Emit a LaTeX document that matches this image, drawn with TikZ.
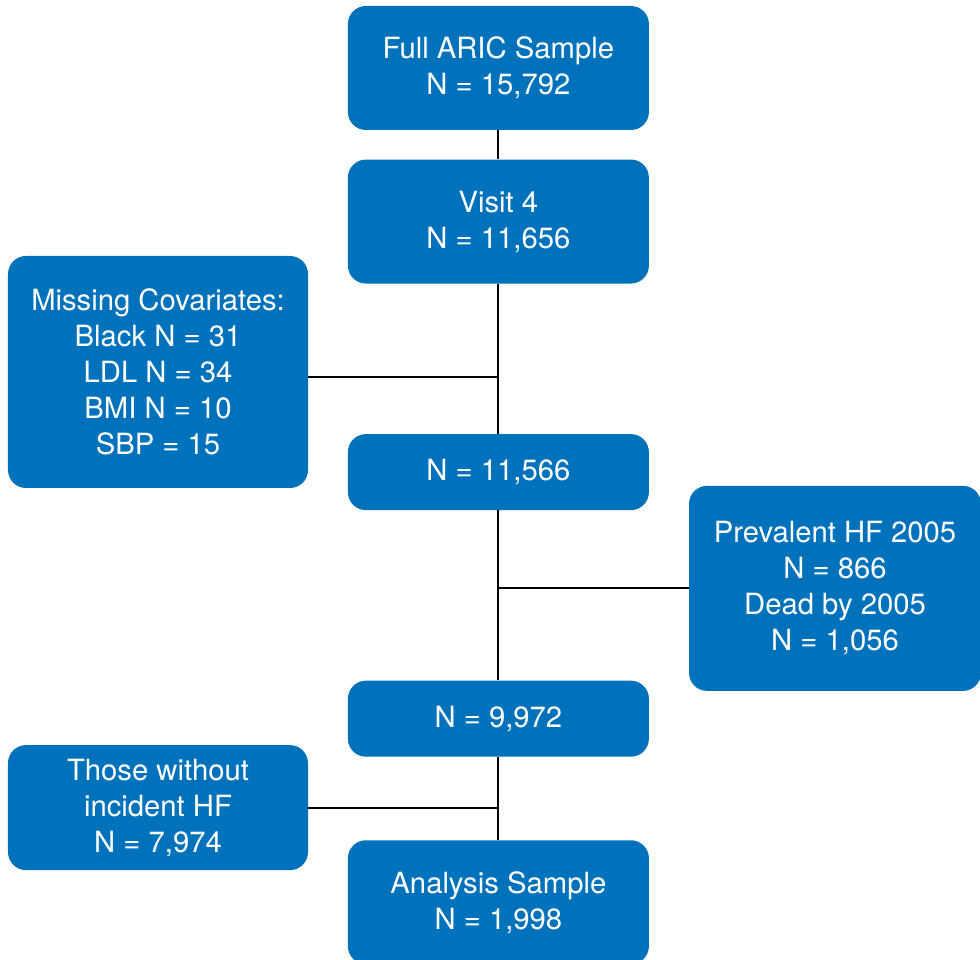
\documentclass[tikz,border=0pt]{standalone}
\usepackage{fontspec}
\setmainfont{TeX Gyre Heros}
\usepackage{xcolor}
\usepackage{tikz}
\usetikzlibrary{positioning, calc}

\definecolor{aricblue}{RGB}{0,114,187}

\begin{document}
\begin{tikzpicture}[
    node distance=0.725cm,
    block/.style={rectangle, fill=aricblue, text=white, minimum width=7.525cm, minimum height=3.1cm, align=center, font=\fontsize{20.8}{25.6}\selectfont, rounded corners=0.45cm, inner sep=0pt},
    link/.style={draw=black, line width=1.3pt},
]
\useasboundingbox (0,0) rectangle (24.5,-24);

% main column
\node[block] (full) at (12.46,-1.7) {Full ARIC Sample\\N = 15,792};
\node[block, below=0.725cm of full] (visit) {Visit 4\\N = 11,656};
\node[block, below=3.75cm of visit, minimum height=1.9cm] (cov) {N = 11,566};
\node[block, below=4.25cm of cov, minimum height=1.9cm] (prev) {N = 9,972};
\node[block, below=2.075cm of prev] (final) {Analysis Sample\\N = 1,998};

% exclusions
\node[block, minimum width=7.5cm, minimum height=5.8cm] (miss) at (3.95,-9.3) {Missing Covariates:\\Black N = 31\\LDL N = 34\\BMI N = 10\\SBP = 15};
\node[block, minimum width=7.3cm, minimum height=5.125cm] (hf) at (20.875,-14.71) {Prevalent HF 2005\\N = 866\\Dead by 2005\\N = 1,056};
\node[block, minimum width=7.5cm, minimum height=3.125cm] (noinc) at (3.95,-20.19) {Those without\\incident HF\\N = 7,974};

\draw[link] (full) -- (visit);
\draw[link] (visit) -- (cov);
\draw[link] (cov) -- (prev);
\draw[link] (prev) -- (final);
\draw[link] ([yshift=-0.12cm]miss.east) -- ([yshift=-0.12cm]miss.east -| visit.south);
\draw[link] (hf.west) -- (hf.west -| cov.south);
\draw[link] (noinc.east) -- (noinc.east -| prev.south);
\end{tikzpicture}
\end{document}
